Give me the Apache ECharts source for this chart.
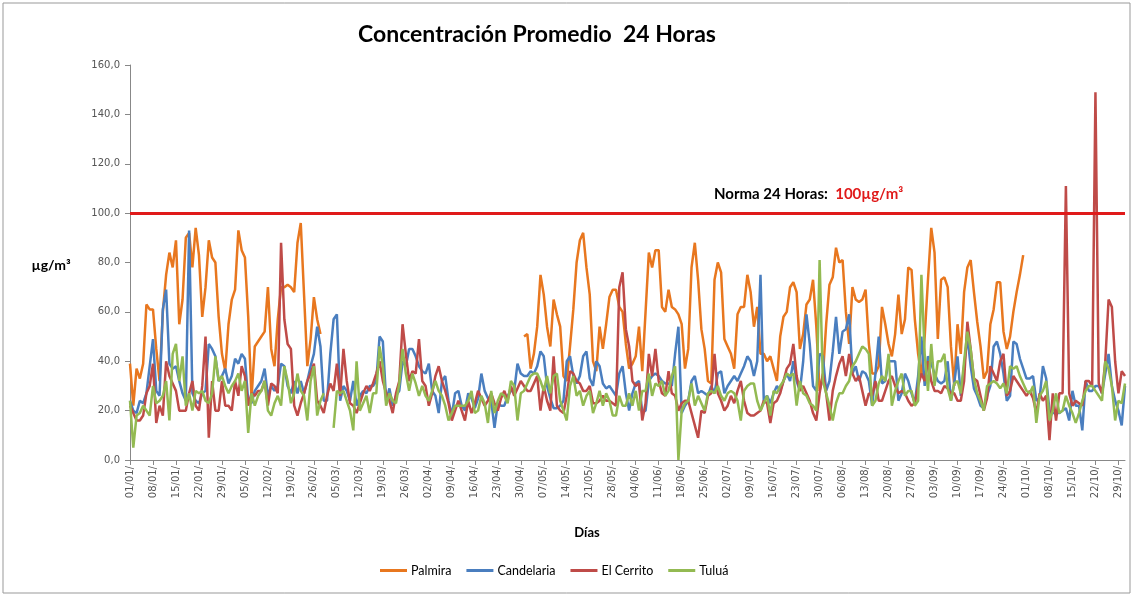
<!DOCTYPE html>
<html>
<head>
<meta charset="utf-8">
<title>Concentración Promedio 24 Horas</title>
<script src="https://cdn.jsdelivr.net/npm/echarts@6/dist/echarts.min.js"></script>
<style>
  html, body { margin: 0; padding: 0; background: #fff; }
  #chart { width: 1134px; height: 596px; }
</style>
</head>
<body>
<div id="chart"></div>
<script>
// días por mes (ene..oct), para armar las categorías dd/mm/
const monthDays = [31, 28, 31, 30, 31, 30, 31, 31, 30, 31];
const seriesNames = ["Palmira", "Candelaria", "El Cerrito", "Tuluá"];
const yTicks = [0, 20, 40, 60, 80, 100, 120, 140, 160];
const norma = 100;

const gap = (n) => new Array(n).fill(null);

const days = [];
monthDays.forEach((n, m) => {
  for (let d = 1; d <= n; d++) {
    days.push(String(d).padStart(2, "0") + "/" + String(m + 1).padStart(2, "0") + "/");
  }
});

// Palmira: sin datos entre fin de febrero y fin de abril, y desde octubre
const palmira = [
  39,22,37,33,39,63,61,61,45,32, 60,75,84,78,89,55,65,90,92,78,
  94,83,58,70,89,82,80,58,43,36, 55,65,69,93,85,82,58,25,46,48,
  50,52,70,45,38,57,70,70, 71,70,68,88,96,67,38,49,66,57,51,
  ...gap(61),
  50,51,37,43,54,75,67,54,46,65, 59,54,34,32,46,61,80,89,92,78,
  67,40,36,54,45,55,66,69,
  69,62,60,47,37,39,42,54,36,60, 84,78,85,85,62,60,69,62,61,59,
  55,37,45,78,88,73,53,45,32,31, 73,80,76,49,46,43,37,59,62,62,
  75,68,54,62,43,43,40,42,37,32, 50,58,60,
  70,72,68,45,51,63,65,73,54,28, 34,55,71,74,86,80,81,60,47,70,
  65,64,65,69,47,35,35,38,62,55, 47,42,51,67,51,57,78,77,57,43,
  34,50,73,94,84,49,73,74,
  70,46,30,55,43,68,78,81,68,56, 46,33,36,55,61,72,72,52,45,50,
  60,68,75,83,
  ...gap(31)
];

const candelaria = [
  24,20,19,24,23,27,38,49,28,26, 61,69,39,37,38,32,27,24,93,27,
  24,23,27,28,47,45,42,32,34,37, 31,34,41,39,43,41,24,23,28,30,
  32,37,26,30,28,30,39,38,
  30,27,32,27,32,27,32,38,43,54, 46,24,24,43,57,59,24,30,28,24,
  32,22,26,28,27,30,30,32,50,48, 24,29,22,26,28,40,38,45,45,42,
  38,36,35,39,28,26,19,32,34,24, 18,27,28,
  22,20,27,25,21,25,35,28,25,24, 13,23,22,22,26,28,28,39,35,34,
  34,36,35,38,44,42,30,25,21,21, 22,24,40,42,34,31,34,42,44,33,
  30,40,38,31,29,30,28,
  26,35,38,27,20,27,31,32,19,20, 32,34,35,34,32,31,31,30,43,54,
  19,22,24,32,34,27,28,27,26,30, 27,35,36,27,30,32,34,32,35,38,
  42,40,34,40,75,24,26,23,27,30, 28,32,35,
  32,40,32,28,40,59,47,30,28,43, 42,28,32,44,58,43,52,53,59,35,
  38,32,36,35,32,22,35,50,31,32, 40,40,40,24,27,35,32,27,23,34,
  50,30,42,39,35,32,31,32,
  40,24,31,42,26,38,50,38,29,26, 22,21,26,30,46,48,43,35,24,26,
  48,47,41,37,33,33,34,24,25,38, 33,20,19,19,19,20,21,16,28,22,
  22,12,32,28,28,30,30,27,35,43, 30,24,20,14,30
];

const elCerrito = [
  22,19,16,16,18,27,30,39,15,22, 18,40,34,31,28,20,20,20,27,32,
  22,20,30,50,9,32,20,20,32,22, 22,20,32,26,38,34,22,27,26,28,
  28,32,22,31,30,27, 88,57,47,45,
  22,18,23,27,32,35,39,24,22,19, 26,31,28,39,26,45,32,23,22,19,
  23,27,30,28,31,35,40,32,27,24, 19,27,32,55,43,32,36,35,49,32,
  30,22,27,34,38,32,28,23,16,20,
  24,20,16,24,19,23,28,25,22,24, 27,23,20,25,28,24,30,26,29,32,
  30,28,28,31,34,20,30,24,20,42, 22,20,19,26,36,35,32,31,28,28,
  30,23,23,24,26,24,24,23,22,
  70,76,53,46,32,30,31,16,23,43, 34,45,32,27,26,36,27,26,20,23,
  24,24,19,14,9,20,19,26,27,43, 27,24,20,22,26,23,28,32,24,19,
  18,18,19,20,24,23,15,23,24,27, 32,37,
  39,47,34,28,30,27,24,19,16,27, 35,27,16,28,34,39,42,34,43,35,
  32,34,28,22,27,26,32,24,24,28, 32,34,30,27,28,27,24,22,23,30,
  35,32,40,32,28,28,27,30,
  29,27,27,24,24,32,56,45,33,32, 26,20,25,38,35,32,40,43,26,28,
  34,32,30,28,26,28,25,19,27,24, 26,8,27,16,27,27,111,27,22,24,
  23,22,32,32,30,149,31,27,40,65, 62,40,27,36,34
];

const tulua = [
  24,5,18,19,22,20,18,30,23,24, 26,32,16,43,47,32,42,22,27,20,
  28,27,28,24,23,27,42,32,34,30, 27,30,32,35,28,32,11,27,22,26,
  28,32,20,18,23,26,22,
  38,32,23,27,35,28,26,16,32,38, 18,24,27,null,null,13,28,27,28,24,
  20,12,40,20,23,26,19,27,27,46, 38,22,27,24,23,31,45,35,28,35,
  31,26,30,26,24,28,32,28,26,22, 16,19,22,
  22,22,22,24,28,19,20,26,23,15, 28,19,24,27,26,23,32,30,16,27,
  28,31,34,35,35,32,28,34,27,34, 35,24,20,16,30,34,26,28,22,26,
  28,19,23,28,22,27,24,18,
  18,26,22,22,27,22,28,20,28,28, 35,26,31,30,32,26,28,34,38,0,
  20,23,24,31,22,26,23,20,27,28, 27,30,26,24,27,28,27,24,16,28,
  30,31,31,24,20,23,26,18,28,27, 30,32,35,
  34,35,22,32,27,26,23,22,20,81, 32,27,22,16,23,27,27,30,32,38,
  40,43,46,45,43,22,24,31,34,32, 43,22,28,32,35,26,28,28,22,24,
  75,43,28,47,30,40,40,43,
  29,24,31,32,27,40,52,45,33,27, 24,20,30,31,32,31,29,31,27,38,
  37,38,34,31,28,27,30,15,26,28, 32,16,20,27,19,20,26,22,19,15,
  19,24,28,30,30,28,26,24,40,37, 30,16,24,23,31
];

const colors = ["#e8771f", "#4a7ebf", "#bf4b48", "#93ba52"];
const font = "Lato, 'Open Sans', sans-serif";

const chart = echarts.init(document.getElementById("chart"));

const makeSeries = (name, data, color) => ({
  name: name,
  type: "line",
  data: data,
  symbol: "none",
  connectNulls: false,
  lineStyle: { width: 2.5, color: color },
  itemStyle: { color: color },
  emphasis: { disabled: true },
});

const series = [
  makeSeries(seriesNames[0], palmira, colors[0]),
  makeSeries(seriesNames[1], candelaria, colors[1]),
  makeSeries(seriesNames[2], elCerrito, colors[2]),
  makeSeries(seriesNames[3], tulua, colors[3]),
];
// línea de la norma
series[3].markLine = {
  silent: true,
  symbol: "none",
  label: { show: false },
  lineStyle: { color: "#e01a1a", width: 3, type: "solid" },
  data: [{ yAxis: norma }],
};

const option = {
  animation: false,
  textStyle: { fontFamily: font },
  grid: { left: 130, right: 9, top: 65, bottom: 136 },
  legend: {
    data: seriesNames,
    bottom: 14,
    left: 375,
    icon: "rect",
    itemWidth: 27,
    itemHeight: 3,
    itemGap: 15,
    textStyle: { fontFamily: font, fontSize: 12.5, color: "#000", padding: [0, 0, 0, -1] },
  },
  xAxis: {
    type: "category",
    data: days,
    boundaryGap: false,
    axisLine: { lineStyle: { color: "#888" } },
    axisTick: { interval: 6, length: 5, lineStyle: { color: "#888" } },
    axisLabel: {
      interval: 6,
      rotate: 90,
      fontSize: 10,
      color: "#555",
      fontFamily: "'DejaVu Sans', sans-serif",
      margin: 6,
    },
    splitLine: { show: false },
  },
  yAxis: {
    type: "value",
    min: yTicks[0],
    max: yTicks[yTicks.length - 1],
    interval: yTicks[1] - yTicks[0],
    axisLine: { show: true, lineStyle: { color: "#888" } },
    axisTick: { show: true, length: 5, lineStyle: { color: "#888" } },
    axisLabel: {
      fontSize: 10,
      color: "#555",
      fontFamily: "'DejaVu Sans', sans-serif",
      margin: 10,
      formatter: (v) => v.toFixed(1).replace(".", ","),
    },
    splitLine: { show: false },
  },
  graphic: [
    {
      type: "rect",
      shape: { x: 3, y: 3, width: 1127, height: 590 },
      style: { fill: "none", stroke: "#999", lineWidth: 1 },
      silent: true,
    },
    {
      type: "text",
      x: 537, y: 35,
      style: {
        text: "Concentración Promedio  24 Horas",
        font: "bold 23px " + font,
        fill: "#000",
        align: "center",
        verticalAlign: "middle",
      },
    },
    {
      type: "text",
      x: 51, y: 265,
      style: {
        text: "µg/m³",
        font: "bold 14px " + font,
        fill: "#000",
        align: "center",
        verticalAlign: "middle",
      },
    },
    {
      type: "text",
      x: 587, y: 533,
      style: {
        text: "Días",
        font: "bold 13px " + font,
        fill: "#000",
        align: "center",
        verticalAlign: "middle",
      },
    },
    {
      type: "text",
      x: 714, y: 194,
      style: {
        text: "{a|Norma 24 Horas:  }{b|100µg/m³}",
        verticalAlign: "middle",
        rich: {
          a: { font: "bold 15px " + font, fill: "#000" },
          b: { font: "bold 15px " + font, fill: "#e01a1a" },
        },
      },
    },
  ],
  series: series,
};

chart.setOption(option);
</script>
</body>
</html>
